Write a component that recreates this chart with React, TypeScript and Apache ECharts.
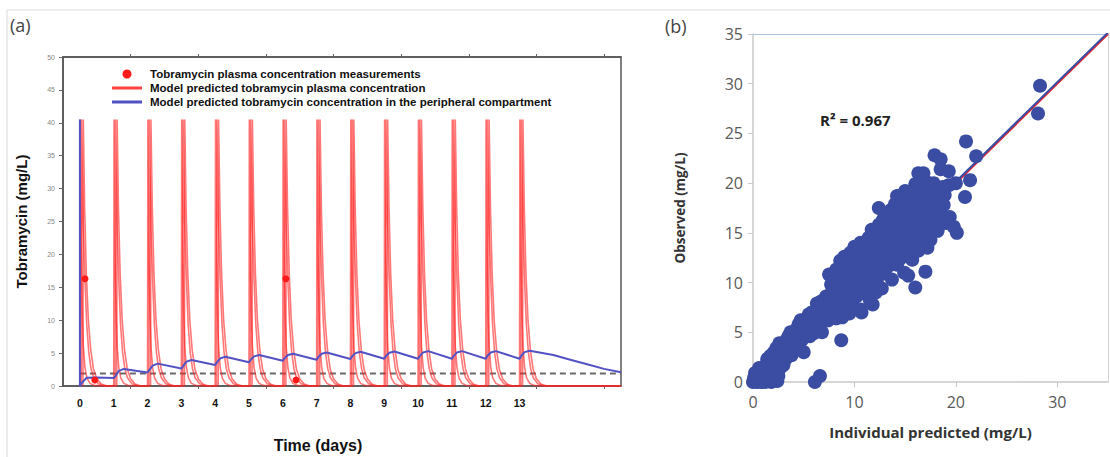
import React, { useEffect, useRef } from "react";
import * as echarts from "echarts";

// ---------- Panel (a) data ----------
const DOSE_DAYS = [0, 1, 2, 3, 4, 5, 6, 7, 8, 9, 10, 11, 12, 13];
const DAY_LABELS = [0, 1, 2, 3, 4, 5, 6, 7, 8, 9, 10, 11, 12, 13];
const TOP_TICKS = [1.5, 3.5, 5.5, 7.5, 9.5, 11.5, 13.5, 15.5];
// concentration profile after each dose, [days after dose, mg/L], three predicted curves
const PROFILE_FAST = [[0, 0], [0.01, 40.5], [0.035, 22], [0.07, 11], [0.1, 6], [0.15, 2.8], [0.21, 1.2], [0.3, 0.4], [0.42, 0.1], [0.6, 0]];
const PROFILE_MID = [[0.04, 0], [0.05, 40.5], [0.09, 26], [0.15, 16], [0.2, 9.5], [0.26, 5.2], [0.33, 2.6], [0.41, 1.2], [0.54, 0.35], [0.72, 0]];
const PROFILE_SLOW = [[0.09, 0], [0.1, 40.5], [0.14, 27], [0.19, 17], [0.25, 10], [0.32, 5.5], [0.4, 2.6], [0.5, 1.1], [0.63, 0.3], [0.8, 0]];
const PERIPHERAL = [
  [0, 40.5], [0, 0], [0.08, 0.6], [0.2, 1.25], [0.5, 1.3], [1.0, 1.2],
  [1.05, 1.5], [1.15, 2.3], [1.3, 2.6], [2.0, 2.05],
  [2.05, 2.4], [2.15, 3.1], [2.3, 3.4], [3.0, 2.65],
  [3.05, 3.0], [3.15, 3.7], [3.3, 3.95], [4.0, 3.2],
  [4.05, 3.6], [4.15, 4.2], [4.3, 4.45], [5.0, 3.6],
  [5.05, 4.0], [5.15, 4.5], [5.3, 4.7], [6.0, 3.85],
  [6.05, 4.2], [6.15, 4.7], [6.3, 4.9], [7.0, 4.0],
  [7.05, 4.4], [7.15, 4.9], [7.3, 5.1], [8.0, 4.1],
  [8.05, 4.5], [8.15, 5.0], [8.3, 5.2], [9.0, 4.15],
  [9.05, 4.55], [9.15, 5.05], [9.3, 5.25], [10.0, 4.15],
  [10.05, 4.55], [10.15, 5.1], [10.3, 5.3], [11.0, 4.15],
  [11.05, 4.55], [11.15, 5.1], [11.3, 5.3], [12.0, 4.15],
  [12.05, 4.6], [12.15, 5.1], [12.3, 5.3], [13.0, 4.15],
  [13.05, 4.6], [13.15, 5.15], [13.3, 5.35], [14.0, 4.7], [14.5, 4.0], [15.0, 3.3], [15.5, 2.6], [16.0, 2.1],
];
const MEASUREMENTS = [[0.15, 16.3], [0.44, 0.9], [6.09, 16.3], [6.39, 0.9]];
const THRESHOLD = 1.9;

// ---------- Panel (b) data ----------
const SCATTER_POINTS = [
  [0, 0], [0.2, 0.1], [0.4, 0], [0.6, 0.2], [0.8, 0], [1.0, 0.1], [0.1, 0.4], [0.3, 0.7], [0.5, 0.5], [0.7, 0.9], [0.9, 0.6], [0.2, 0.9], [1.0, 1.2], [0.6, 1.4],
  [1.2, 0], [1.5, 0.1], [1.8, 0], [2.1, 0.2], [2.4, 0.1], [1.3, 0.6], [1.6, 0.9], [1.9, 0.5], [1.2, 1.6], [1.5, 1.9], [1.8, 1.4], [1.4, 2.3], [1.7, 2.6], [2.0, 2.2], [2.2, 1.0], [2.0, 2.9],
  [2.3, 1.6], [2.5, 0.6], [2.6, 1.3], [2.8, 2.0], [2.4, 2.7], [2.7, 3.1], [2.9, 2.5], [2.3, 3.4], [3.0, 1.7], [3.0, 3.6], [2.6, 3.9],
  [3.2, 2.3], [3.4, 3.0], [3.3, 4.2], [3.6, 3.5], [3.8, 2.7], [3.5, 4.6], [3.9, 4.0], [3.7, 5.0], [4.0, 3.3],
  [4.2, 4.4], [4.4, 3.8], [4.3, 5.3], [4.6, 4.8], [4.8, 4.2], [4.5, 5.8], [4.9, 5.3], [4.7, 6.2], [5.0, 3.0],
  [5.2, 5.0], [5.4, 5.8], [5.3, 6.4], [5.6, 4.6], [5.8, 5.4], [5.6, 6.1], [5.9, 6.5], [6.0, 4.9], [5.5, 6.8],
  [6.1, 0.0], [6.6, 0.6], [6.2, 5.8], [6.4, 6.6], [6.3, 7.9], [6.6, 7.2], [6.8, 5.0], [6.9, 6.3], [6.7, 8.1], [7.0, 7.6],
  [7.2, 7.0], [7.2, 8.6], [7.4, 6.2], [7.5, 10.8], [7.6, 7.9], [7.8, 9.1], [7.9, 6.9], [7.7, 9.8], [8.0, 8.4], [8.0, 10.2],
  [8.2, 6.4], [8.3, 7.6], [8.4, 9.0], [8.5, 10.5], [8.6, 11.6], [8.7, 4.2], [8.8, 6.5], [8.8, 8.2], [8.9, 9.6], [9.0, 12.6], [9.0, 11.0], [8.6, 12.2],
  [9.2, 7.2], [9.3, 8.7], [9.4, 10.1], [9.5, 11.8], [9.6, 13.0], [9.7, 9.3], [9.8, 7.8], [9.9, 10.8], [10.0, 12.3], [10.0, 13.6], [9.5, 6.9],
  [10.2, 8.6], [10.3, 9.9], [10.4, 11.3], [10.5, 12.8], [10.6, 7.3], [10.6, 14.0], [10.8, 10.4], [10.9, 11.9], [11.0, 13.3], [11.0, 8.9], [10.7, 7.0],
  [11.2, 9.6], [11.3, 12.4], [11.4, 14.5], [11.5, 10.8], [11.6, 13.7], [11.7, 15.3], [11.8, 7.8], [11.9, 11.6], [12.0, 12.9], [12.0, 14.8], [11.5, 8.3],
  [12.2, 10.1], [12.3, 11.3], [12.4, 15.8], [12.4, 17.5], [12.5, 13.3], [12.6, 14.3], [12.7, 9.4], [12.8, 16.3], [12.9, 12.1], [13.0, 15.1], [13.0, 10.9],
  [13.2, 13.8], [13.3, 16.7], [13.4, 11.7], [13.5, 14.6], [13.6, 17.3], [13.7, 10.3], [13.8, 12.8], [13.9, 15.8], [14.0, 13.4], [14.0, 17.9], [13.5, 16.0],
  [14.2, 11.8], [14.3, 14.9], [14.4, 16.6], [14.5, 18.2], [14.6, 13.1], [14.7, 15.7], [14.8, 17.2], [14.9, 11.0], [15.0, 14.3], [15.0, 16.1], [14.5, 12.4],
  [15.2, 15.1], [15.3, 10.7], [15.3, 17.6], [15.4, 18.8], [15.5, 13.7], [15.6, 16.4], [15.7, 12.3], [15.8, 17.0], [15.9, 14.7], [16.0, 9.5], [16.0, 18.3], [15.9, 15.8],
  [16.2, 16.0], [16.3, 21.0], [16.3, 13.2], [16.4, 17.5], [16.6, 14.5], [16.7, 18.6], [16.8, 21.0], [16.9, 15.4], [17.0, 11.1], [17.0, 17.1], [16.5, 19.4],
  [17.2, 13.5], [17.3, 16.2], [17.4, 18.0], [17.5, 14.3], [17.6, 19.2], [17.8, 20.0], [17.9, 22.8], [17.8, 15.8], [18.0, 17.4],
  [18.2, 15.2], [18.4, 18.6], [18.5, 22.4], [18.5, 21.4], [18.6, 16.8], [18.8, 17.8], [19.0, 16.0], [18.7, 19.6],
  [19.3, 19.8], [19.3, 21.2], [19.4, 16.6], [19.8, 15.6], [20.0, 20.0], [20.1, 15.0], [20.9, 18.6], [21.4, 20.3], [21.0, 24.2], [22.0, 22.7],
  [28.1, 27.0], [28.3, 29.8],
  [1.1, 0.8], [1.4, 1.2], [2.1, 1.6], [2.5, 2.2], [2.8, 3.0], [3.1, 2.9], [3.3, 3.6], [3.6, 4.1], [4.1, 3.9], [4.3, 4.8],
  [4.5, 4.4], [4.9, 4.8], [5.1, 5.5], [5.4, 5.2], [5.7, 5.8], [6.1, 6.2], [6.3, 5.4], [6.5, 6.9], [6.9, 7.2], [7.1, 6.6], [5.0, 6.0], [5.8, 7.0],
  [7.3, 7.6], [7.6, 8.6], [7.9, 7.8], [8.1, 9.3], [8.4, 8.3], [8.6, 9.9], [8.9, 8.9], [9.1, 10.3], [9.3, 11.4], [9.6, 9.9], [9.8, 11.2], [9.9, 12.7], [9.1, 8.0], [8.2, 11.3],
  [10.1, 10.7], [10.3, 12.1], [10.5, 13.5], [10.7, 9.2], [10.9, 11.2], [11.1, 12.6], [11.2, 14.0], [11.4, 11.5], [11.6, 9.2], [11.8, 12.3], [11.9, 13.8], [12.1, 11.6], [12.2, 13.9], [12.3, 15.1], [12.6, 12.6], [12.8, 11.0], [12.9, 14.2], [12.1, 9.0],
  [13.1, 12.4], [13.2, 14.9], [13.4, 15.7], [13.6, 13.1], [13.8, 14.4], [13.9, 16.7], [14.1, 12.6], [14.2, 15.8], [14.3, 17.3], [14.6, 14.2], [14.7, 16.9], [14.9, 15.1], [15.1, 13.0], [15.2, 16.8], [15.5, 15.0], [15.7, 17.8], [15.8, 14.0], [16.1, 16.9], [16.2, 15.0],
  [16.5, 16.2], [16.6, 18.0], [16.9, 16.6], [17.1, 18.7], [17.3, 15.1], [17.6, 17.1], [17.7, 18.4], [18.1, 16.3], [18.3, 17.6], [18.9, 18.8], [17.1, 20.1], [16.0, 19.9], [15.0, 19.2], [14.2, 18.7],
];
const IDENTITY_LINE = [[0, 0], [35, 35]];
const REGRESSION_LINE = [[0, 0.15], [35, 35.15]];
const R2_TEXT = "R\u00b2 = 0.967";

const NAME_MEAS = "Tobramycin plasma concentration measurements";
const NAME_PLASMA = "Model predicted tobramycin plasma concentration";
const NAME_PERIPH = "Model predicted tobramycin concentration in the peripheral compartment";

function buildCurve(profile: number[][]) {
  const pts: number[][] = [];
  for (const d of DOSE_DAYS) {
    for (const [dt, c] of profile) pts.push([d + dt, c]);
  }
  pts.push([16, 0]);
  return pts;
}

const FONT_A = "'Liberation Sans', Arial, sans-serif";
const FONT_B = "'Open Sans', sans-serif";
const RED = "rgba(255,35,35,0.62)";

export default function App() {
  const ref = useRef<HTMLDivElement>(null);
  useEffect(() => {
    document.body.style.margin = "0";
    const chart = echarts.init(ref.current!, null, { renderer: "svg" });
    const redSeries = [PROFILE_FAST, PROFILE_MID, PROFILE_SLOW].map((p) => ({
      name: NAME_PLASMA,
      type: "line",
      xAxisIndex: 0,
      yAxisIndex: 0,
      data: buildCurve(p),
      showSymbol: false,
      symbol: "none",
      lineStyle: { color: RED, width: 1.6 },
      itemStyle: { color: "#ff3030" },
      z: 3,
    }));
    chart.setOption({
      animation: false,
      backgroundColor: "#fff",
      legend: {
        orient: "vertical",
        left: 107,
        top: 63,
        itemWidth: 30,
        itemHeight: 9,
        itemGap: 2,
        selectedMode: false,
        textStyle: { fontSize: 11.5, fontWeight: "bold", color: "#111", fontFamily: FONT_A, padding: [0, 0, 0, 3] },
        data: [
          { name: NAME_MEAS, icon: "circle", itemStyle: { color: "#ff1a1a" } },
          { name: NAME_PLASMA, icon: "path://M0,0H30V3H0Z", itemStyle: { color: "#ff4040" } },
          { name: NAME_PERIPH, icon: "path://M0,0H30V3H0Z", itemStyle: { color: "#5050c0" } },
        ],
      },
      grid: [
        { left: 63, top: 57, width: 558, height: 329, show: true, borderColor: "#555", borderWidth: 1.5 },
        { left: 753, top: 34, width: 355, height: 348 },
      ],
      xAxis: [
        {
          gridIndex: 0, type: "value", min: -0.5, max: 16, position: "bottom",
          axisLine: { show: true, onZero: false, lineStyle: { color: "#555", width: 1.5 } },
          axisTick: { show: true, customValues: TOP_TICKS, length: 3, lineStyle: { color: "#666" } },
          axisLabel: { customValues: DAY_LABELS, fontSize: 10.5, fontWeight: "bold", color: "#111", fontFamily: FONT_A, margin: 11 },
          splitLine: { show: false },
        },
        {
          gridIndex: 0, type: "value", min: -0.5, max: 16, position: "top",
          axisLine: { show: true, onZero: false, lineStyle: { color: "#555", width: 1.5 } },
          axisTick: { show: true, customValues: TOP_TICKS, length: 3, lineStyle: { color: "#666" } },
          axisLabel: { show: false },
          splitLine: { show: false },
        },
        {
          gridIndex: 1, type: "value", min: 0, max: 35, position: "bottom",
          name: "Individual predicted (mg/L)", nameLocation: "middle", nameGap: 42,
          nameTextStyle: { fontSize: 15, fontWeight: "bold", color: "#333", fontFamily: FONT_B },
          axisLine: { show: true, onZero: false, lineStyle: { color: "#c8c8c8", width: 1.5 } },
          axisTick: { show: true, customValues: [0, 10, 20, 30], length: 5, lineStyle: { color: "#c8c8c8" } },
          axisLabel: { customValues: [0, 10, 20, 30], fontSize: 16, color: "#595959", fontFamily: FONT_B, margin: 12 },
          splitLine: { show: false },
        },
        {
          gridIndex: 1, type: "value", min: 0, max: 35, position: "top",
          axisLine: { show: true, onZero: false, lineStyle: { color: "#a8c2e0", width: 1.2 } },
          axisTick: { show: false }, axisLabel: { show: false }, splitLine: { show: false },
        },
      ],
      yAxis: [
        {
          gridIndex: 0, type: "value", min: 0, max: 50, interval: 5,
          name: "Tobramycin (mg/L)", nameLocation: "middle", nameGap: 34,
          nameTextStyle: { fontSize: 15, fontWeight: "bold", color: "#111", fontFamily: FONT_A },
          axisLine: { show: true, onZero: false, lineStyle: { color: "#555", width: 1.5 } },
          axisTick: { show: true, length: 4, lineStyle: { color: "#666" } },
          axisLabel: { fontSize: 7, color: "#888", fontFamily: FONT_A, margin: 8 },
          splitLine: { show: false },
        },
        {
          gridIndex: 1, type: "value", min: 0, max: 35, interval: 5,
          name: "Observed (mg/L)", nameLocation: "middle", nameGap: 66,
          nameTextStyle: { fontSize: 13.5, fontWeight: "bold", color: "#333", fontFamily: FONT_B },
          axisLine: { show: true, onZero: false, lineStyle: { color: "#c8c8c8", width: 1.5 } },
          axisTick: { show: true, length: 5, lineStyle: { color: "#c8c8c8" } },
          axisLabel: { fontSize: 16, color: "#595959", fontFamily: FONT_B, margin: 10 },
          splitLine: { show: false },
        },
        {
          gridIndex: 1, type: "value", min: 0, max: 35, position: "right",
          axisLine: { show: true, onZero: false, lineStyle: { color: "#d4d4d4", width: 1 } },
          axisTick: { show: false }, axisLabel: { show: false }, splitLine: { show: false },
        },
      ],
      series: [
        {
          name: "threshold", type: "line", xAxisIndex: 0, yAxisIndex: 0,
          data: [[0, THRESHOLD], [16, THRESHOLD]], symbol: "none",
          lineStyle: { color: "#6a6a6a", width: 2, type: [6, 4] }, z: 2,
        },
        ...redSeries,
        {
          name: NAME_PERIPH, type: "line", xAxisIndex: 0, yAxisIndex: 0,
          data: PERIPHERAL, symbol: "none", showSymbol: false,
          lineStyle: { color: "#5252c4", width: 2 }, itemStyle: { color: "#5252c4" }, z: 4,
        },
        {
          name: NAME_MEAS, type: "scatter", xAxisIndex: 0, yAxisIndex: 0,
          data: MEASUREMENTS, symbolSize: 7, itemStyle: { color: "#ff1a1a", opacity: 1 }, z: 5,
        },
        {
          name: "identity", type: "line", xAxisIndex: 2, yAxisIndex: 1,
          data: IDENTITY_LINE, symbol: "none", lineStyle: { color: "#e8202a", width: 2 }, z: 2,
        },
        {
          name: "regression", type: "line", xAxisIndex: 2, yAxisIndex: 1,
          data: REGRESSION_LINE, symbol: "none", lineStyle: { color: "#3a4ea6", width: 2 }, z: 2,
        },
        {
          name: "Observed vs predicted", type: "scatter", xAxisIndex: 2, yAxisIndex: 1,
          data: SCATTER_POINTS, symbolSize: 14, itemStyle: { color: "#3b4da2", opacity: 1 }, z: 4,
        },
      ],
      graphic: [
        { type: "rect", shape: { x: 7, y: 10, width: 1120, height: 470 }, style: { fill: "none", stroke: "#dadada", lineWidth: 1 }, silent: true },
        { type: "text", left: 10, top: 16, style: { text: "(a)", fontSize: 18, fill: "#444", fontFamily: "'Open Sans', sans-serif" } },
        { type: "text", left: 665, top: 17, style: { text: "(b)", fontSize: 18, fill: "#444", fontFamily: "'Open Sans', sans-serif" } },
        { type: "text", x: 318, y: 445, style: { text: "Time (days)", fontSize: 16, fontWeight: "bold", fill: "#111", fontFamily: FONT_A, align: "center", verticalAlign: "middle" } },
        { type: "text", x: 820, y: 120, style: { text: R2_TEXT, fontSize: 15, fontWeight: "bold", fill: "#222", fontFamily: FONT_B, verticalAlign: "middle" } },
      ],
    });
    return () => chart.dispose();
  }, []);
  return <div ref={ref} style={{ width: 1110, height: 457 }} />;
}
